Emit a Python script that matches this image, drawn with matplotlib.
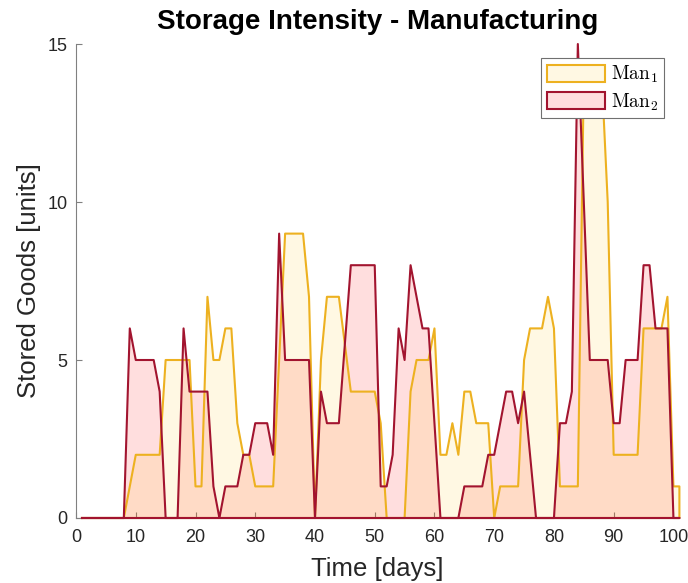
import numpy as np
import matplotlib.pyplot as plt
from matplotlib.patches import Patch

# daily storage levels, day 1 .. 101
days = np.arange(1, 102)
man1 = [0, 0, 0, 0, 0, 0, 0, 0, 1, 2,
        2, 2, 2, 2, 5, 5, 5, 5, 5, 1,
        1, 7, 5, 5, 6, 6, 3, 2, 2, 1,
        1, 1, 1, 5, 9, 9, 9, 9, 7, 0,
        5, 7, 7, 7, 5.5, 4, 4, 4, 4, 4,
        3, 0, 0, 0, 0, 4, 5, 5, 5, 6,
        2, 2, 3, 2, 4, 4, 3, 3, 3, 0,
        1, 1, 1, 1, 5, 6, 6, 6, 7, 6,
        1, 1, 1, 1, 14, 14, 14, 14, 10, 2,
        2, 2, 2, 2, 6, 6, 6, 6, 7, 1,
        1]
man2 = [0, 0, 0, 0, 0, 0, 0, 0, 6, 5,
        5, 5, 5, 4, 0, 0, 0, 6, 4, 4,
        4, 4, 1, 0, 1, 1, 1, 2, 2, 3,
        3, 3, 2, 9, 5, 5, 5, 5, 5, 0,
        4, 3, 3, 3, 5.5, 8, 8, 8, 8, 8,
        1, 1, 2, 6, 5, 8, 7, 6, 6, 3,
        0, 0, 0, 0, 1, 1, 1, 1, 2, 2,
        3, 4, 4, 3, 4, 2, 0, 0, 0, 0,
        3, 3, 4, 15, 10, 5, 5, 5, 5, 3,
        3, 5, 5, 5, 8, 8, 6, 6, 6, 0,
        0]
labels = [r'$\mathrm{Man}_1$', r'$\mathrm{Man}_2$']

yellow = '#EDB120'
red = '#A2142F'
yellow_face = (1.0, 0.78, 0.1, 0.12)
red_face = (1.0, 0.0, 0.0, 0.13)

plt.rcParams['font.family'] = 'Liberation Sans'
plt.rcParams['mathtext.fontset'] = 'cm'

fig = plt.figure(figsize=(6.88, 5.83), dpi=100)
ax = fig.add_axes([0.1105, 0.1115, 0.877, 0.813])

# closed outlines like MATLAB area()
xp = np.concatenate([days, [days[-1], days[0]]])
for vals, face, z in [(man2, red_face, 2), (man1, yellow_face, 3)]:
    yp = np.concatenate([vals, [0, 0]])
    ax.fill(xp, yp, facecolor=face, edgecolor='none', zorder=z)
ax.plot(xp, np.concatenate([man1, [0, 0]]), color=yellow, lw=1.5, zorder=4, clip_on=False)
ax.plot(xp, np.concatenate([man2, [0, 0]]), color=red, lw=1.5, zorder=5, clip_on=False)

ax.set_xlim(0, 101)
ax.set_ylim(0, 15)
ax.set_xticks(np.arange(0, 101, 10))
ax.set_yticks([0, 5, 10, 15])
for s in ['top', 'right']:
    ax.spines[s].set_visible(False)
for s in ['left', 'bottom']:
    ax.spines[s].set_color('#808080')
    ax.spines[s].set_linewidth(0.8)
ax.tick_params(direction='in', length=4, width=0.8, color='#808080',
               labelsize=13, labelcolor='#262626')
ax.tick_params(axis='x', pad=8)
ax.tick_params(axis='y', pad=6)

ax.set_title('Storage Intensity - Manufacturing', fontsize=20, fontweight='bold', pad=11)
ax.set_xlabel('Time [days]', fontsize=18.5, color='#262626', labelpad=8)
ax.set_ylabel('Stored Goods [units]', fontsize=18.5, color='#262626', labelpad=5)

handles = [Patch(facecolor='#FFF8E3', edgecolor=yellow, lw=1.5),
           Patch(facecolor='#FFDEDE', edgecolor=red, lw=1.5)]
leg = ax.legend(handles, labels, loc='upper right', bbox_to_anchor=(0.975, 0.97),
                borderaxespad=0, fancybox=False, edgecolor='#707070', fontsize=14,
                handlelength=3.0, handleheight=1.0, handletextpad=0.3,
                labelspacing=0.3, borderpad=0.3, framealpha=1)
leg.get_frame().set_linewidth(0.8)
leg.set_zorder(10)

fig.savefig('out.png', dpi=100)
